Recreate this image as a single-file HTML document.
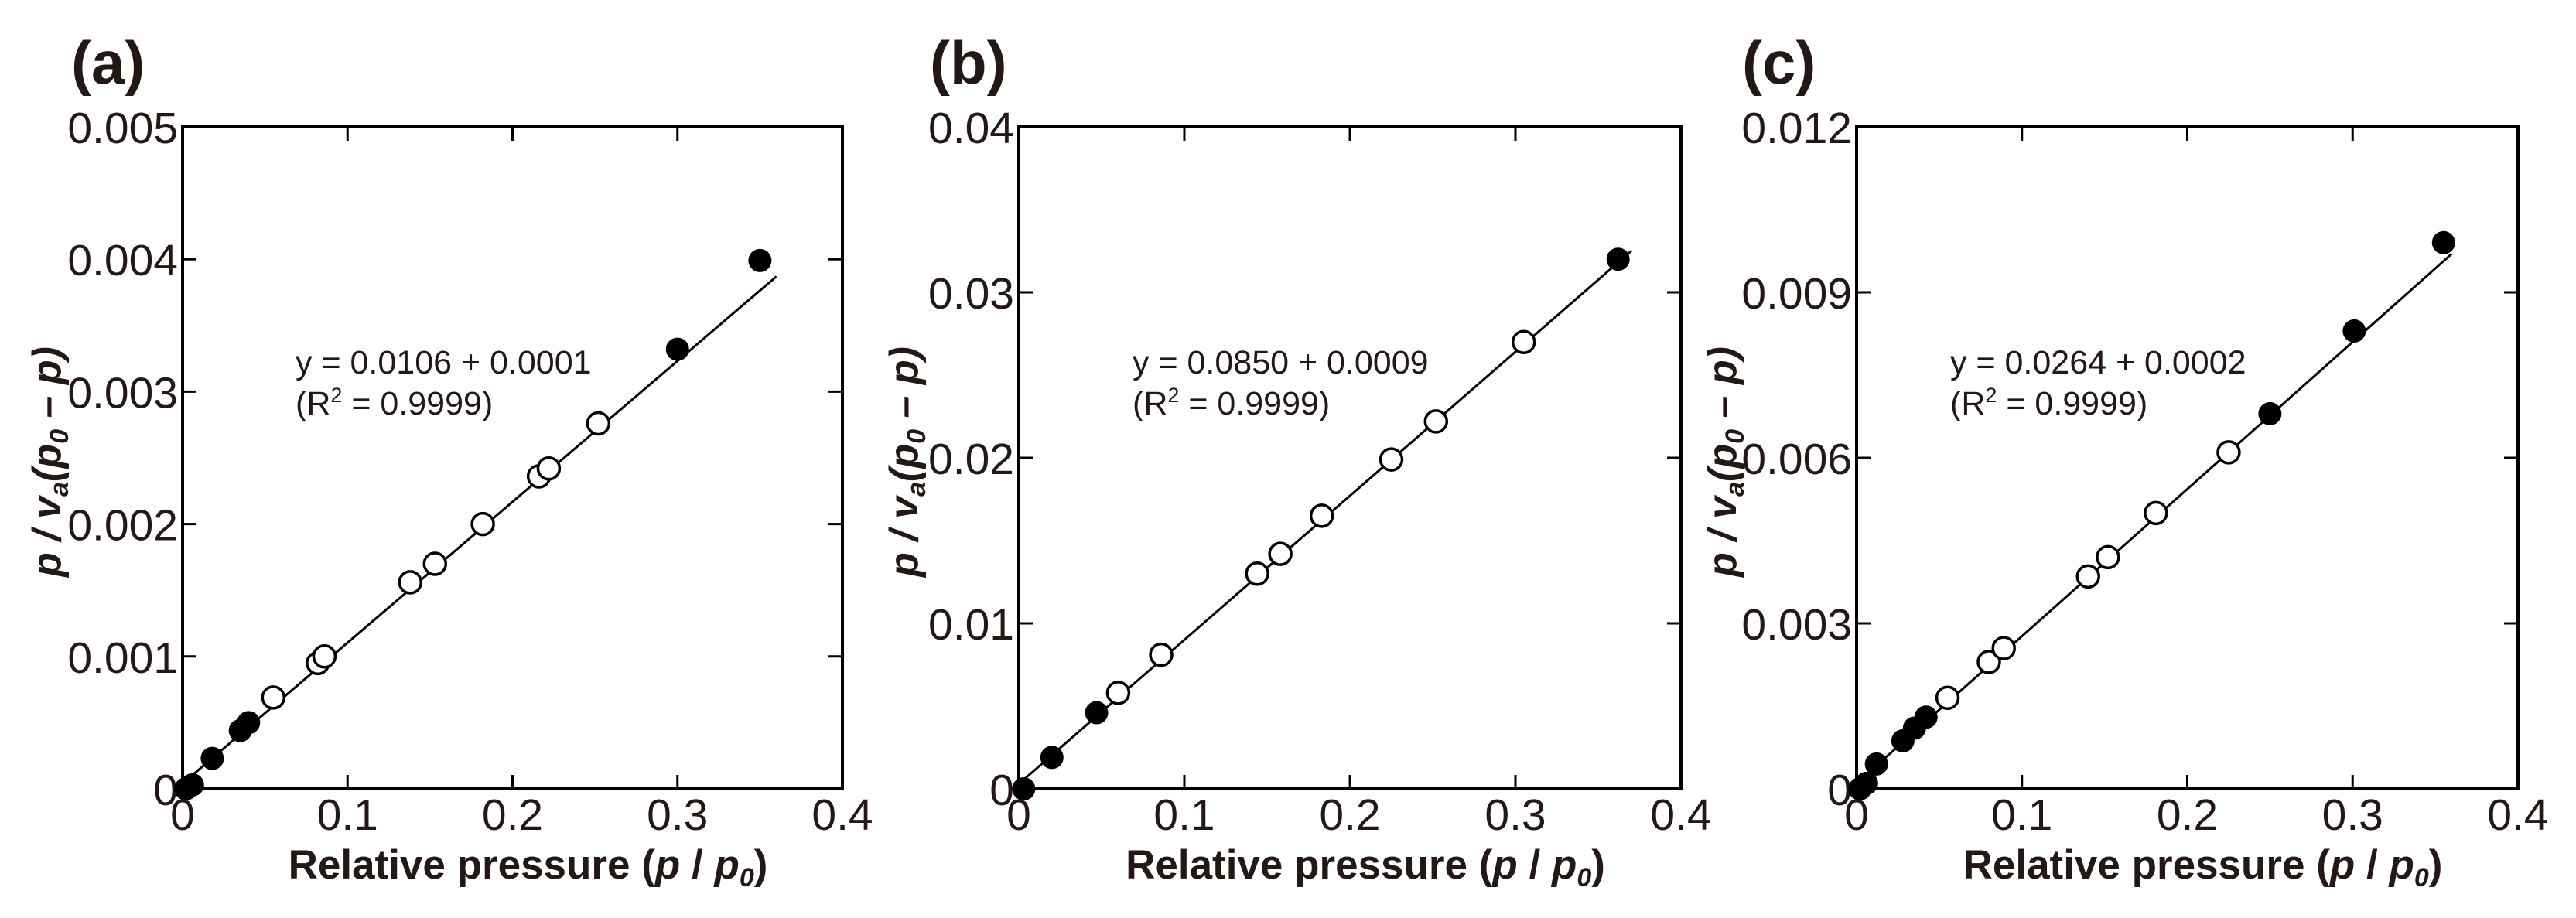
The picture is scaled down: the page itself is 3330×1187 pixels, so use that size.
<!DOCTYPE html>
<html><head><meta charset="utf-8"><style>
html,body{margin:0;padding:0;background:#fff;}
svg{display:block;font-family:"Liberation Sans",sans-serif;}
</style></head><body>
<svg id="fig" width="3330" height="1187" viewBox="0 0 3330 1187" xmlns="http://www.w3.org/2000/svg"></svg>
<script>
// Panel (a)
const aFilledX = [0.002, 0.006, 0.018, 0.035, 0.040, 0.300, 0.350];
const aFilledY = [0.0000, 0.00003, 0.00023, 0.00044, 0.00050, 0.00332, 0.00399];
const aOpenX = [0.055, 0.082, 0.086, 0.138, 0.153, 0.182, 0.216, 0.222, 0.252];
const aOpenY = [0.00069, 0.00095, 0.00100, 0.00156, 0.00170, 0.00200, 0.00236, 0.00242, 0.00276];
const aFitX = [0, 0.36];
const aFitY = [0.00004, 0.00387];
const aYTicks = ["0", "0.001", "0.002", "0.003", "0.004", "0.005"];
// Panel (b)
const bFilledX = [0.003, 0.020, 0.047, 0.362];
const bFilledY = [0.0000, 0.0019, 0.0046, 0.0320];
const bOpenX = [0.060, 0.086, 0.144, 0.158, 0.183, 0.225, 0.252, 0.305];
const bOpenY = [0.0058, 0.0081, 0.0130, 0.0142, 0.0165, 0.0199, 0.0222, 0.0270];
const bFitX = [0, 0.37];
const bFitY = [0.0003, 0.0325];
const bYTicks = ["0", "0.01", "0.02", "0.03", "0.04"];
// Panel (c)
const cFilledX = [0.002, 0.006, 0.012, 0.028, 0.035, 0.042, 0.250, 0.301, 0.355];
const cFilledY = [0.0000, 0.0001, 0.00045, 0.00087, 0.0011, 0.0013, 0.0068, 0.0083, 0.0099];
const cOpenX = [0.055, 0.080, 0.089, 0.140, 0.152, 0.181, 0.225];
const cOpenY = [0.00165, 0.0023, 0.00255, 0.00385, 0.0042, 0.0050, 0.0061];
const cFitX = [0, 0.36];
const cFitY = [0.0001, 0.0097];
const cYTicks = ["0", "0.003", "0.006", "0.009", "0.012"];
const xTicks = ["0", "0.1", "0.2", "0.3", "0.4"];
const equations = ["y = 0.0106 + 0.0001", "y = 0.0850 + 0.0009", "y = 0.0264 + 0.0002"];
const panelLabels = ["(a)", "(b)", "(c)"];

const NS = "http://www.w3.org/2000/svg";
const svg = document.getElementById("fig");
const INK = "#231815";
function mk(tag, attrs, parent){const e=document.createElementNS(NS,tag);for(const k in attrs)e.setAttribute(k,attrs[k]);(parent||svg).appendChild(e);return e;}

const panels = [
 {L:236,R:1089,label:92,eq:382,ytitle:62,fx:aFilledX,fy:aFilledY,ox:aOpenX,oy:aOpenY,lx:aFitX,ly:aFitY,yt:aYTicks,id:"a"},
 {L:1317,R:2173,label:1202,eq:1464,ytitle:1170,fx:bFilledX,fy:bFilledY,ox:bOpenX,oy:bOpenY,lx:bFitX,ly:bFitY,yt:bYTicks,id:"b"},
 {L:2400,R:3255,label:2252,eq:2521,ytitle:2228,fx:cFilledX,fy:cFilledY,ox:cOpenX,oy:cOpenY,lx:cFitX,ly:cFitY,yt:cYTicks,id:"c"}
];
const T=164,B=1020;
panels.forEach((p,i)=>{
 const g=mk("g",{});
 
 
 const ymax=parseFloat(p.yt[p.yt.length-1]);
 const sx=v=>p.L+(v/0.4)*(p.R-p.L);
 const sy=v=>B-(v/ymax)*(B-T);
 const fr=mk("rect",{x:p.L,y:T,width:p.R-p.L,height:B-T,fill:"none",stroke:"#000","stroke-width":4},g);
 
 
 xTicks.forEach((t,k)=>{
  const x=sx(parseFloat(t));
  if(k>0&&k<xTicks.length-1){
   mk("line",{x1:x,y1:B,x2:x,y2:B-18,stroke:"#000","stroke-width":3},g);
   mk("line",{x1:x,y1:T,x2:x,y2:T+18,stroke:"#000","stroke-width":3},g);
  }
  const tx=mk("text",{x:x,y:1073,"font-size":57,"text-anchor":"middle",fill:INK},g);
  tx.textContent=t;
  
  
 });
 p.yt.forEach((t,k)=>{
  const y=sy(parseFloat(t));
  if(k>0&&k<p.yt.length-1){
   mk("line",{x1:p.L,y1:y,x2:p.L+18,y2:y,stroke:"#000","stroke-width":3},g);
   mk("line",{x1:p.R,y1:y,x2:p.R-18,y2:y,stroke:"#000","stroke-width":3},g);
  }
  const ty=mk("text",{x:p.L-6,y:y+21,"font-size":57,"text-anchor":"end",fill:INK},g);
  ty.textContent=t;
  
  
 });
 const ln=mk("line",{x1:sx(p.lx[0]),y1:sy(p.ly[0]),x2:sx(p.lx[1]),y2:sy(p.ly[1]),stroke:"#000","stroke-width":3},g);
 
 
 p.ox.forEach((v,k)=>{
  const c=mk("circle",{cx:sx(v),cy:sy(p.oy[k]),r:14,fill:"#fff",stroke:"#000","stroke-width":3.5},g);
  
  
 });
 p.fx.forEach((v,k)=>{
  const c=mk("circle",{cx:sx(v),cy:sy(p.fy[k]),r:15,fill:"#000"},g);
  
  
 });
 const e1=mk("text",{x:p.eq,y:483,"font-size":43,fill:INK},g);
 e1.textContent=equations[i];
 
 
 const e2=mk("text",{x:p.eq,y:536,"font-size":43,fill:INK},g);
 e2.innerHTML='(R<tspan font-size="27" dy="-16">2</tspan><tspan dy="16"> = 0.9999)</tspan>';
 
 
 const pl=mk("text",{x:p.label,y:108,"font-size":78,"font-weight":"bold",fill:INK},g);
 pl.textContent=panelLabels[i];
 
 
 const xt=mk("text",{x:(p.L+p.R)/2+20,y:1136,"font-size":53,"font-weight":"bold","text-anchor":"middle",fill:INK},g);
 xt.innerHTML='Relative pressure (<tspan font-style="italic">p</tspan> / <tspan font-style="italic">p</tspan><tspan font-style="italic" font-size="34" dy="10">0</tspan><tspan dy="-10">)</tspan>';
 
 
 const yt=mk("text",{x:0,y:0,"font-size":52,"font-weight":"bold","font-style":"italic","text-anchor":"middle",fill:INK,transform:`translate(${p.ytitle+16},597) rotate(-90)`},g);
 yt.innerHTML='p / v<tspan font-size="34" dy="10">a</tspan><tspan dy="-10">(p</tspan><tspan font-size="34" dy="10">0</tspan><tspan dy="-10"> – p)</tspan>';
 
 
});
</script>
</body></html>
